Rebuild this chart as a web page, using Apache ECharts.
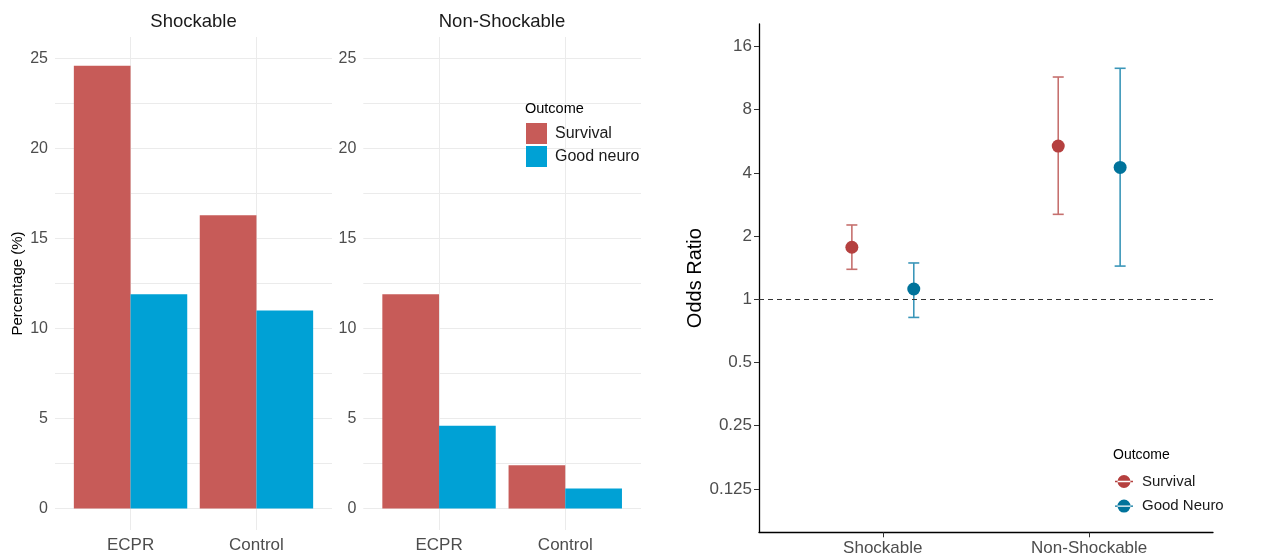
<!DOCTYPE html>
<html><head><meta charset="utf-8">
<script src="https://cdn.jsdelivr.net/npm/echarts@6/dist/echarts.min.js"></script>
<style>html,body{margin:0;padding:0;background:#fff}#c{width:1264px;height:554px}</style>
</head><body><div id="c"></div>
<script>
// ---- data ----
const facetNames = ['Shockable', 'Non-Shockable'];
const groups = ['ECPR', 'Control'];
const barOutcomes = ['Survival', 'Good neuro'];
const shockSurvival = [24.6, 16.3];
const shockNeuro = [11.9, 11.0];
const nonShockSurvival = [11.9, 2.4];
const nonShockNeuro = [4.6, 1.1];
const pctTicks = [0, 2.5, 5, 7.5, 10, 12.5, 15, 17.5, 20, 22.5, 25];
const pctLabels = [0, 5, 10, 15, 20, 25];

const rhythms = ['Shockable', 'Non-Shockable'];
const orOutcomes = ['Survival', 'Good Neuro'];
const orSurvival = [1.77, 5.37];
const orSurvivalLo = [1.39, 2.54];
const orSurvivalHi = [2.26, 11.45];
const orNeuro = [1.12, 4.25];
const orNeuroLo = [0.82, 1.44];
const orNeuroHi = [1.49, 12.6];
const orTicks = [0.125, 0.25, 0.5, 1, 2, 4, 8, 16];

// ---- styles ----
const FONT = 'Liberation Sans, Arial, sans-serif';
const C_SURV = '#C75B58', C_NEURO = '#00A1D5';
const C_SURV_PT = '#B5403F', C_SURV_BAR = '#C6706E';
const C_NEURO_PT = '#00739B', C_NEURO_BAR = '#3A96B9';
const GRIDC = '#EBEBEB';
const TICKC = '#4D4D4D';

const chart = echarts.init(document.getElementById('c'));

const facetGrids = [
  {left: 55, width: 277, top: 37, height: 493, outerBoundsMode: 'none', containLabel: false},
  {left: 363.3, width: 277.7, top: 37, height: 493, outerBoundsMode: 'none', containLabel: false},
  {left: 759, width: 454, top: 24, height: 508.3, outerBoundsMode: 'none', containLabel: false}
];

function facetX(gi) {
  return {
    type: 'value', gridIndex: gi, min: 0.4, max: 2.6,
    axisLine: {show: false}, axisTick: {show: false, customValues: [1, 2]},
    axisLabel: {customValues: [1, 2], margin: 7, fontFamily: FONT, fontSize: 17, color: TICKC,
      formatter: v => groups[Math.round(v) - 1] || ''},
    splitLine: {show: true, lineStyle: {color: GRIDC, width: 1}}
  };
}
function facetY(gi, name) {
  return {
    type: 'value', gridIndex: gi, min: -1.2, max: 26.2,
    name: name, nameLocation: 'middle', nameGap: 30, nameRotate: 90,
    nameTextStyle: {fontFamily: FONT, fontSize: 15, color: '#000'},
    axisLine: {show: false}, axisTick: {show: false, customValues: pctTicks},
    axisLabel: {customValues: pctLabels, margin: 7, fontFamily: FONT, fontSize: 16, color: TICKC},
    splitLine: {show: true, lineStyle: {color: GRIDC, width: 1}}
  };
}

const BARW = 56.7;
function barSeries(gi, name, vals, color) {
  return {
    type: 'bar', name: name, xAxisIndex: gi, yAxisIndex: gi,
    barWidth: BARW, barGap: '0%',
    itemStyle: {color: color},
    data: vals.map((v, i) => [i + 1, v])
  };
}

const DODGE = 0.15;
function pointSeries(name, vals, offset, color) {
  return {
    type: 'scatter', name: name, xAxisIndex: 2, yAxisIndex: 2,
    symbolSize: 13, itemStyle: {color: color, opacity: 1}, z: 5,
    data: vals.map((v, i) => [i + 1 + offset, v])
  };
}
function errSeries(name, lo, hi, offset, color, legendColor) {
  return {
    type: 'custom', name: name, xAxisIndex: 2, yAxisIndex: 2, z: 3,
    itemStyle: {color: legendColor},
    data: lo.map((l, i) => [i + 1 + offset, l, hi[i]]),
    renderItem: function (params, api) {
      const p1 = api.coord([api.value(0), api.value(1)]);
      const p2 = api.coord([api.value(0), api.value(2)]);
      const cap = 5.5;
      const st = {stroke: color, lineWidth: 1.6};
      return {type: 'group', children: [
        {type: 'line', shape: {x1: p1[0], y1: p1[1], x2: p2[0], y2: p2[1]}, style: st},
        {type: 'line', shape: {x1: p1[0] - cap, y1: p1[1], x2: p1[0] + cap, y2: p1[1]}, style: st},
        {type: 'line', shape: {x1: p2[0] - cap, y1: p2[1], x2: p2[0] + cap, y2: p2[1]}, style: st}
      ]};
    }
  };
}

const legendIcon = 'path://M0,5.8h18v1.4h-18z M2.5,6.5a6.5,6.5 0 1,0 13,0a6.5,6.5 0 1,0 -13,0z';

const option = {
  animation: false,
  backgroundColor: '#fff',
  textStyle: {fontFamily: FONT},
  title: [
    {text: facetNames[0], left: 193.5, top: 12, textAlign: 'center', padding: 0,
      textStyle: {fontFamily: FONT, fontSize: 18.5, fontWeight: 'normal', color: '#1A1A1A'}},
    {text: facetNames[1], left: 502, top: 12, textAlign: 'center', padding: 0,
      textStyle: {fontFamily: FONT, fontSize: 18.5, fontWeight: 'normal', color: '#1A1A1A'}},
    {text: 'Outcome', left: 525, top: 101, padding: 0,
      textStyle: {fontFamily: FONT, fontSize: 14.5, fontWeight: 'normal', color: '#000'}},
    {text: 'Outcome', left: 1113, top: 448, padding: 0,
      textStyle: {fontFamily: FONT, fontSize: 14, fontWeight: 'normal', color: '#000'}}
  ],
  legend: [
    {data: barOutcomes, orient: 'vertical', left: 526, top: 123, padding: 0,
      itemWidth: 21, itemHeight: 21, itemGap: 2, icon: 'rect', selectedMode: false,
      textStyle: {fontFamily: FONT, fontSize: 16, color: '#1A1A1A', padding: [0, 0, 0, 3]}},
    {data: orOutcomes.map(o => 'OR ' + o), orient: 'vertical', left: 1115, top: 474, padding: 0,
      itemWidth: 18, itemHeight: 13, itemGap: 9.6, icon: legendIcon, selectedMode: false,
      formatter: n => n.replace('OR ', ''),
      textStyle: {fontFamily: FONT, fontSize: 15, color: '#1A1A1A', padding: [0, 0, 0, 4]}}
  ],
  grid: facetGrids,
  xAxis: [
    facetX(0), facetX(1),
    {
      type: 'value', gridIndex: 2, min: 0.4, max: 2.6,
      axisLine: {show: true, lineStyle: {color: '#000', width: 1.3}},
      axisTick: {show: true, customValues: [1, 2], length: 5, lineStyle: {color: '#333'}},
      axisLabel: {customValues: [1, 2], margin: 8, fontFamily: FONT, fontSize: 17, color: TICKC,
        formatter: v => rhythms[Math.round(v) - 1] || ''},
      splitLine: {show: false}
    }
  ],
  yAxis: [
    facetY(0, 'Percentage (%)'), facetY(1, ''),
    {
      type: 'log', logBase: 2, gridIndex: 2, min: 0.0777, max: 20.48,
      name: 'Odds Ratio', nameLocation: 'middle', nameGap: 42, nameRotate: 90,
      nameTextStyle: {fontFamily: FONT, fontSize: 20, color: '#000'},
      axisLine: {show: true, lineStyle: {color: '#000', width: 1.3}},
      axisTick: {show: true, customValues: orTicks, length: 5, lineStyle: {color: '#333'}},
      axisLabel: {customValues: orTicks, margin: 7, fontFamily: FONT, fontSize: 17, color: TICKC,
        formatter: v => String(parseFloat(v.toPrecision(6)))},
      splitLine: {show: false}
    }
  ],
  series: [
    barSeries(0, barOutcomes[0], shockSurvival, C_SURV),
    barSeries(0, barOutcomes[1], shockNeuro, C_NEURO),
    barSeries(1, barOutcomes[0], nonShockSurvival, C_SURV),
    barSeries(1, barOutcomes[1], nonShockNeuro, C_NEURO),
    errSeries('OR ' + orOutcomes[0], orSurvivalLo, orSurvivalHi, -DODGE, C_SURV_BAR, C_SURV_PT),
    errSeries('OR ' + orOutcomes[1], orNeuroLo, orNeuroHi, DODGE, C_NEURO_BAR, C_NEURO_PT),
    Object.assign(pointSeries('OR ' + orOutcomes[0], orSurvival, -DODGE, C_SURV_PT), {
      markLine: {silent: true, symbol: 'none', label: {show: false},
        lineStyle: {color: '#333', type: [5, 4], width: 1.2},
        data: [{yAxis: 1}]}
    }),
    pointSeries('OR ' + orOutcomes[1], orNeuro, DODGE, C_NEURO_PT)
  ]
};
chart.setOption(option);
</script>
</body></html>
